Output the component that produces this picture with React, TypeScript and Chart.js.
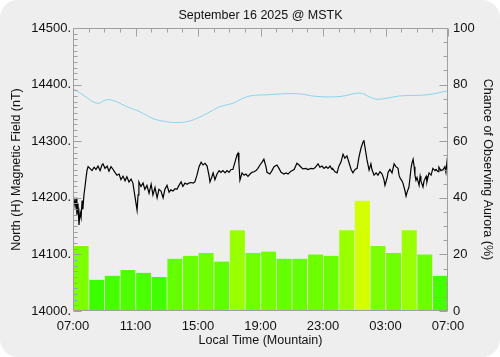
import React, { useEffect, useRef } from 'react';
import { Chart, registerables } from 'chart.js';
Chart.register(...registerables);

const TITLE = 'September 16 2025 @ MSTK';
const X_TITLE = 'Local Time (Mountain)';
const Y_TITLE = 'North (H) Magnetic Field (nT)';
const Y2_TITLE = 'Chance of Observing Aurora (%)';
const xTickLabels = ['07:00', '11:00', '15:00', '19:00', '23:00', '03:00', '07:00'];

// hourly aurora chance (%), 07:00 -> 07:00
const auroraChance = [23, 11, 12.5, 14.5, 13.5, 12, 18.5, 19.5, 20.5, 17.5, 28.5, 20.5,
  21, 18.5, 18.5, 20, 19.5, 28.5, 39, 23, 20.5, 28.5, 20, 12.5];

// magnetometer H (nT), minutes since 07:00
const magMinutes = [0, 4, 8, 12, 15, 19, 23, 27, 31, 35, 38, 42, 46, 50, 54, 58, 65, 73, 81, 88,
  96, 104, 111, 115, 123, 131, 138, 146, 154, 161, 169, 177, 184, 192, 200, 207, 215, 223, 230, 238,
  242, 246, 250, 253, 261, 269, 276, 284, 292, 300, 307, 315, 323, 330, 338, 346, 353, 361, 369, 376,
  384, 392, 399, 407, 415, 422, 430, 438, 445, 453, 461, 468, 476, 484, 492, 499, 507, 515, 522, 526,
  534, 538, 545, 553, 561, 568, 576, 584, 591, 599, 607, 614, 622, 630, 634, 637, 641, 649, 657, 664,
  672, 680, 687, 695, 703, 710, 718, 726, 733, 741, 745, 756, 764, 772, 783, 791, 799, 810, 818, 826,
  837, 849, 860, 868, 876, 883, 895, 902, 914, 922, 929, 941, 948, 956, 964, 972, 979, 987, 995, 998,
  1006, 1014, 1021, 1029, 1037, 1044, 1052, 1060, 1068, 1075, 1083, 1091, 1098, 1106, 1114, 1117, 1121, 1129, 1137, 1144,
  1148, 1156, 1164, 1171, 1179, 1187, 1194, 1198, 1206, 1210, 1217, 1225, 1233, 1240, 1248, 1252, 1256, 1263, 1267, 1275,
  1279, 1283, 1290, 1294, 1298, 1302, 1306, 1310, 1313, 1317, 1321, 1329, 1333, 1336, 1344, 1348, 1356, 1359, 1367, 1375,
  1382, 1390, 1394, 1402, 1405, 1413, 1421, 1428, 1432, 1436, 1440];
const magValues = [14205, 14198, 14185, 14200, 14170, 14190, 14152, 14175, 14165, 14195, 14180, 14205, 14219, 14235, 14249, 14255, 14252, 14248, 14254, 14250,
  14256, 14248, 14258, 14260, 14252, 14256, 14247, 14255, 14250, 14245, 14240, 14242, 14232, 14238, 14230, 14237, 14228, 14233, 14226, 14202,
  14190, 14178, 14205, 14228, 14220, 14226, 14215, 14222, 14208, 14224, 14205, 14218, 14200, 14215, 14212, 14200, 14215, 14222, 14210, 14214,
  14212, 14216, 14215, 14222, 14228, 14220, 14226, 14224, 14226, 14227, 14226, 14228, 14240, 14255, 14263, 14258, 14261, 14256, 14240, 14228,
  14238, 14244, 14232, 14242, 14248, 14245, 14248, 14244, 14248, 14245, 14250, 14250, 14263, 14276, 14279, 14262, 14231, 14244, 14240, 14242,
  14238, 14242, 14245, 14246, 14248, 14252, 14258, 14263, 14268, 14255, 14245, 14242, 14248, 14255, 14258, 14252, 14245, 14242, 14244, 14242,
  14247, 14250, 14261, 14258, 14254, 14251, 14252, 14250, 14252, 14251, 14253, 14260, 14254, 14256, 14252, 14255, 14252, 14256, 14250, 14251,
  14246, 14244, 14256, 14263, 14277, 14270, 14274, 14262, 14250, 14244, 14250, 14252, 14272, 14288, 14299, 14302, 14290, 14267, 14249, 14260,
  14250, 14240, 14244, 14240, 14246, 14242, 14232, 14222, 14235, 14245, 14250, 14244, 14260, 14255, 14252, 14240, 14235, 14230, 14226, 14212,
  14203, 14210, 14219, 14235, 14252, 14262, 14268, 14255, 14240, 14231, 14236, 14222, 14238, 14230, 14219, 14230, 14238, 14228, 14244, 14240,
  14252, 14248, 14250, 14246, 14254, 14248, 14250, 14255, 14245, 14263, 14250];

// quiet-day reference curve (nT), minutes since 07:00
const quietMinutes = [0, 38, 92, 127, 154, 207, 257, 307, 353, 392, 442, 488, 526, 564, 614, 649, 680, 745,
  860, 937, 1025, 1102, 1140, 1171, 1256, 1359, 1440];
const quietValues = [14393, 14382, 14367, 14373, 14372, 14361, 14352, 14340, 14335, 14333, 14335, 14343, 14352, 14361,
  14367, 14375, 14380, 14382, 14384, 14379, 14379, 14385, 14378, 14374, 14380, 14382, 14389];

const FAMILY = '"Liberation Sans", Arial, sans-serif';
const FONT = { family: FAMILY, size: 13 };
const TFONT = { family: FAMILY, size: 12.5 };
const TEXT = '#111111';
const FRAME = '#a0a0a0';

const bgPlugin = {
  id: 'bg',
  beforeDraw(chart: any) {
    const { ctx, width, height } = chart;
    ctx.save();
    ctx.fillStyle = '#ffffff';
    ctx.fillRect(0, 0, width, height);
    ctx.fillStyle = '#eeeeee';
    ctx.beginPath();
    (ctx as any).roundRect(0, 0, width, height, 18);
    ctx.fill();
    ctx.restore();
  },
};

const framePlugin = {
  id: 'frame',
  afterDatasetsDraw(chart: any) {
    const { ctx, chartArea, scales } = chart;
    const L = Math.round(chartArea.left) + 0.5;
    const R = Math.round(chartArea.right) - 0.5;
    const T = Math.round(chartArea.top) + 0.5;
    const B = Math.round(chartArea.bottom) - 0.5;
    ctx.save();
    ctx.strokeStyle = FRAME;
    ctx.lineWidth = 1;
    ctx.beginPath();
    ctx.moveTo(L, T); ctx.lineTo(R, T); ctx.lineTo(R, B); ctx.lineTo(L, B); ctx.closePath();
    for (let v = 14000; v <= 14500; v += 10) {
      const py = Math.round(scales.y.getPixelForValue(v)) + 0.5;
      const len = v % 100 === 0 ? 8 : 4;
      ctx.moveTo(L, py); ctx.lineTo(L + len, py);
    }
    for (let p = 0; p <= 100; p += 5) {
      const py = Math.round(scales.y2.getPixelForValue(p)) + 0.5;
      const len = p % 20 === 0 ? 8 : 4;
      ctx.moveTo(R, py); ctx.lineTo(R - len, py);
    }
    for (let m = 0; m <= 1440; m += 60) {
      const px = Math.round(scales.x.getPixelForValue(m)) + 0.5;
      const len = m % 240 === 0 ? 8 : 4;
      ctx.moveTo(px, T); ctx.lineTo(px, T + len);
    }
    ctx.stroke();
    ctx.restore();
  },
  afterDraw(chart: any) {
    const { ctx, chartArea } = chart;
    ctx.save();
    ctx.fillStyle = TEXT;
    ctx.font = `${TFONT.size}px ${TFONT.family}`;
    ctx.textAlign = 'center';
    ctx.textBaseline = 'middle';
    ctx.fillText(TITLE, (chartArea.left + chartArea.right) / 2, 16);
    ctx.restore();
  },
};

export default function App() {
  const ref = useRef<HTMLCanvasElement>(null);
  useEffect(() => {
    document.body.style.margin = '0';
    const barData = auroraChance.map((v, i) => ({ x: i * 60 + 30, y: v }));
    const magData = magMinutes.map((m, i) => ({ x: m, y: magValues[i] }));
    const quietData = quietMinutes.map((m, i) => ({ x: m, y: quietValues[i] }));
    const chart = new Chart(ref.current as HTMLCanvasElement, {
      type: 'bar',
      data: {
        datasets: [
          {
            type: 'line',
            data: quietData,
            yAxisID: 'y',
            borderColor: '#8ad6ee',
            borderWidth: 1,
            pointRadius: 0,
            tension: 0.4,
            order: 2,
          } as any,
          {
            type: 'line',
            data: magData,
            yAxisID: 'y',
            borderColor: '#000000',
            borderWidth: 1.2,
            pointRadius: 0,
            tension: 0,
            order: 1,
          } as any,
          {
            type: 'bar',
            data: barData,
            yAxisID: 'y2',
            backgroundColor: (c: any) => {
              const v = c.raw ? c.raw.y : 0;
              const r = Math.min(255, Math.round(v * 5.4));
              return `rgb(${r},255,0)`;
            },
            borderColor: 'rgba(225,235,215,0.55)',
            borderWidth: { left: 1, right: 0, top: 0, bottom: 0 },
            borderSkipped: false,
            barPercentage: 1,
            categoryPercentage: 1,
            grouped: false,
            order: 3,
          } as any,
        ],
      },
      options: {
        responsive: false,
        animation: false,
        devicePixelRatio: 1,
        layout: { padding: { top: 28, left: 0, right: 0, bottom: 0 } },
        plugins: { legend: { display: false }, tooltip: { enabled: false }, title: { display: false } },
        scales: {
          x: {
            type: 'linear',
            min: 0,
            max: 1440,
            offset: false,
            grid: { display: false, drawTicks: false, offset: false },
            border: { display: false },
            ticks: {
              stepSize: 240,
              autoSkip: false,
              maxRotation: 0,
              padding: 8,
              color: TEXT,
              font: FONT,
              callback: (v: any) => xTickLabels[Math.round(Number(v) / 240)] ?? '',
            },
            title: { display: true, text: X_TITLE, color: TEXT, font: TFONT, padding: { top: 0, bottom: 9 } },
            afterFit: (s: any) => { s.height = 46; },
          } as any,
          y: {
            position: 'left',
            min: 14000,
            max: 14500,
            grid: { display: false, drawTicks: false },
            border: { display: false },
            ticks: {
              stepSize: 100,
              padding: 2,
              color: TEXT,
              font: FONT,
              callback: (v: any) => `${v}.`,
            },
            title: { display: true, text: Y_TITLE, color: TEXT, font: TFONT, padding: { top: 9, bottom: 0 } },
            afterFit: (s: any) => { s.width = 73; },
          } as any,
          y2: {
            position: 'right',
            min: 0,
            max: 100,
            grid: { display: false, drawTicks: false },
            border: { display: false },
            ticks: { stepSize: 20, padding: 5, color: TEXT, font: FONT },
            title: { display: true, text: Y2_TITLE, color: TEXT, font: TFONT, padding: { top: 5, bottom: 0 } },
            afterFit: (s: any) => { s.width = 52; },
          } as any,
        },
      },
      plugins: [bgPlugin, framePlugin],
    });
    return () => chart.destroy();
  }, []);
  return <canvas ref={ref} width={500} height={357} style={{ display: 'block', width: 500, height: 357 }} />;
}
